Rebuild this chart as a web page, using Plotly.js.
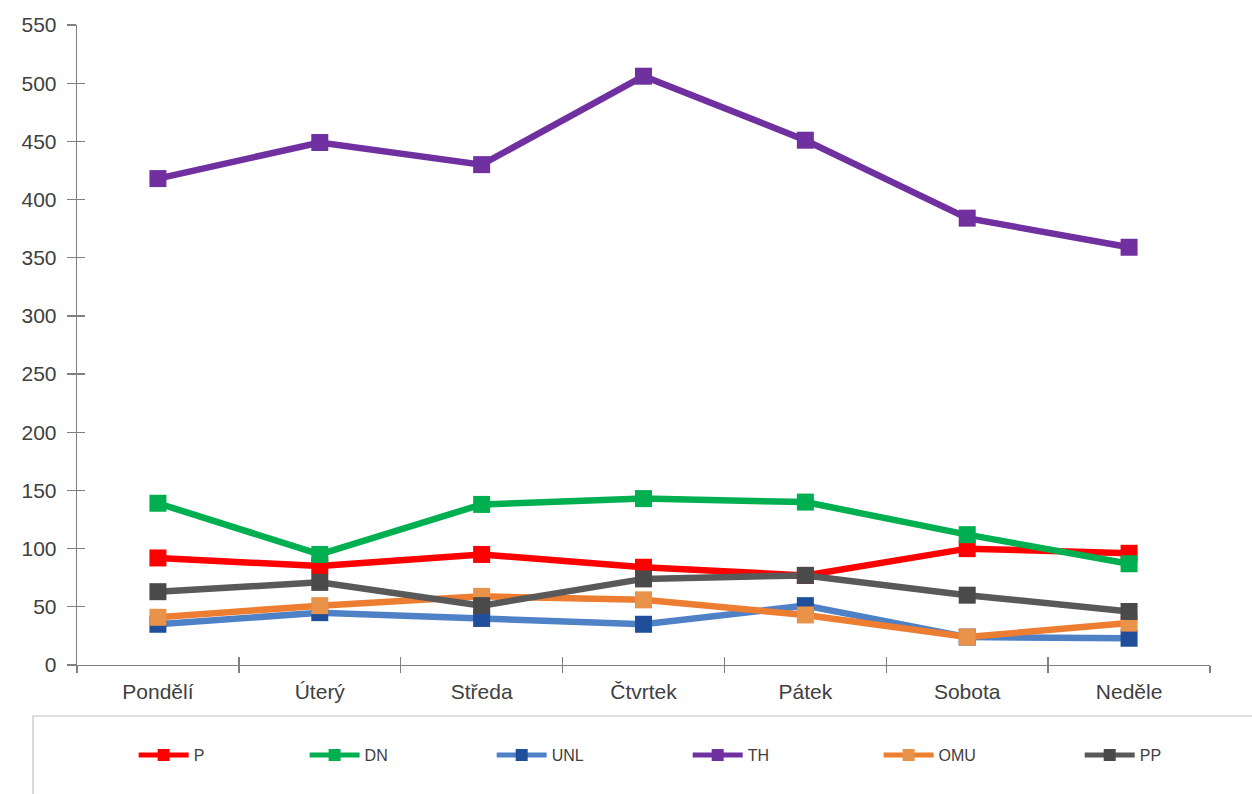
<!DOCTYPE html>
<html>
<head>
<meta charset="utf-8">
<script src="https://cdn.plot.ly/plotly-3.0.1.min.js"></script>
<style>
html,body{margin:0;padding:0;background:#fff;}
#chart{width:1252px;height:794px;}
</style>
</head>
<body>
<div id="chart"></div>
<script>
const days = ["Pondělí", "Úterý", "Středa", "Čtvrtek", "Pátek", "Sobota", "Neděle"];
const seriesNames = ["P", "DN", "UNL", "TH", "OMU", "PP"];
const P   = [92, 85, 95, 84, 77, 100, 96];
const DN  = [139, 95, 138, 143, 140, 112, 87];
const UNL = [35, 45, 40, 35, 51, 24, 23];
const TH  = [418, 449, 430, 506, 451, 384, 359];
const OMU = [41, 51, 59, 56, 43, 24, 36];
const PP  = [63, 71, 51, 74, 77, 60, 46];
const yTicks = [0, 50, 100, 150, 200, 250, 300, 350, 400, 450, 500, 550];

const values = [P, DN, UNL, TH, OMU, PP];
const lineColors = ["#ff0000", "#00b050", "#4f81c7", "#7030a0", "#ed7d31", "#595959"];
const markerColors = ["#ff0000", "#00b050", "#1f4e9a", "#7030a0", "#e8924a", "#4a4a4a"];
const legendX = [0.0500, 0.2009, 0.3660, 0.5390, 0.7075, 0.8850];

const traces = values.map((v, i) => ({
  type: "scatter",
  mode: "lines+markers",
  name: seriesNames[i],
  x: days,
  y: v,
  line: {color: lineColors[i], width: 6.5},
  marker: {symbol: "square", size: 17, color: markerColors[i]},
  legend: i === 0 ? "legend" : "legend" + (i + 1),
  hoverinfo: "x+y+name"
}));
// empty trace to host overlay axes (inside half of crossing ticks)
traces.push({type: "scatter", x: [], y: [], xaxis: "x2", yaxis: "y2", showlegend: false, hoverinfo: "skip"});

const font = {family: "Liberation Sans, Arial, sans-serif"};
const layout = {
  width: 1252, height: 794,
  margin: {l: 77, r: 42, t: 25, b: 129},
  paper_bgcolor: "#ffffff", plot_bgcolor: "#ffffff",
  font: font,
  showlegend: true,
  xaxis: {
    type: "category", categoryarray: days, categoryorder: "array",
    range: [-0.5, 6.5],
    showgrid: false, zeroline: false,
    showline: true, linecolor: "#808080", linewidth: 1.3,
    ticks: "outside", tickson: "boundaries", ticklen: 7, tickcolor: "#808080", tickwidth: 1.3,
    tickfont: {family: font.family, size: 21, color: "#404040"},
    ticklabelstandoff: 7
  },
  yaxis: {
    range: [0, 550], tickvals: yTicks, ticktext: yTicks.map(String),
    showgrid: false, zeroline: false,
    showline: true, linecolor: "#808080", linewidth: 1.3,
    ticks: "outside", ticklen: 9, tickcolor: "#808080", tickwidth: 1.3,
    tickfont: {family: font.family, size: 21, color: "#404040"},
    ticklabelstandoff: 6
  },
  xaxis2: {
    type: "category", categoryarray: days, categoryorder: "array",
    range: [-0.5, 6.5], overlaying: "x", anchor: "y", side: "bottom",
    showgrid: false, zeroline: false, showline: false, showticklabels: false,
    ticks: "inside", tickson: "boundaries", ticklen: 8, tickcolor: "#808080", tickwidth: 1.3
  },
  yaxis2: {
    range: [0, 550], tickvals: yTicks, overlaying: "y", anchor: "x", side: "left",
    showgrid: false, zeroline: false, showline: false, showticklabels: false,
    ticks: "inside", ticklen: 8, tickcolor: "#808080", tickwidth: 1.3
  },
  shapes: [{
    type: "rect", xref: "paper", yref: "paper",
    x0: -0.0388, x1: 1.06, y0: -0.0797, y1: -0.25,
    line: {color: "#bfbfbf", width: 1.2}, fillcolor: "rgba(0,0,0,0)"
  }]
};
legendX.forEach((lx, i) => {
  const key = i === 0 ? "legend" : "legend" + (i + 1);
  layout[key] = {
    x: lx, xanchor: "left", xref: "paper",
    y: -0.1406, yanchor: "middle", yref: "paper",
    orientation: "h", bgcolor: "rgba(0,0,0,0)", borderwidth: 0,
    itemwidth: 50, itemsizing: "constant",
    font: {family: font.family, size: 16, color: "#404040"}
  };
});

Plotly.newPlot("chart", traces, layout, {displayModeBar: false, staticPlot: true});
</script>
</body>
</html>
